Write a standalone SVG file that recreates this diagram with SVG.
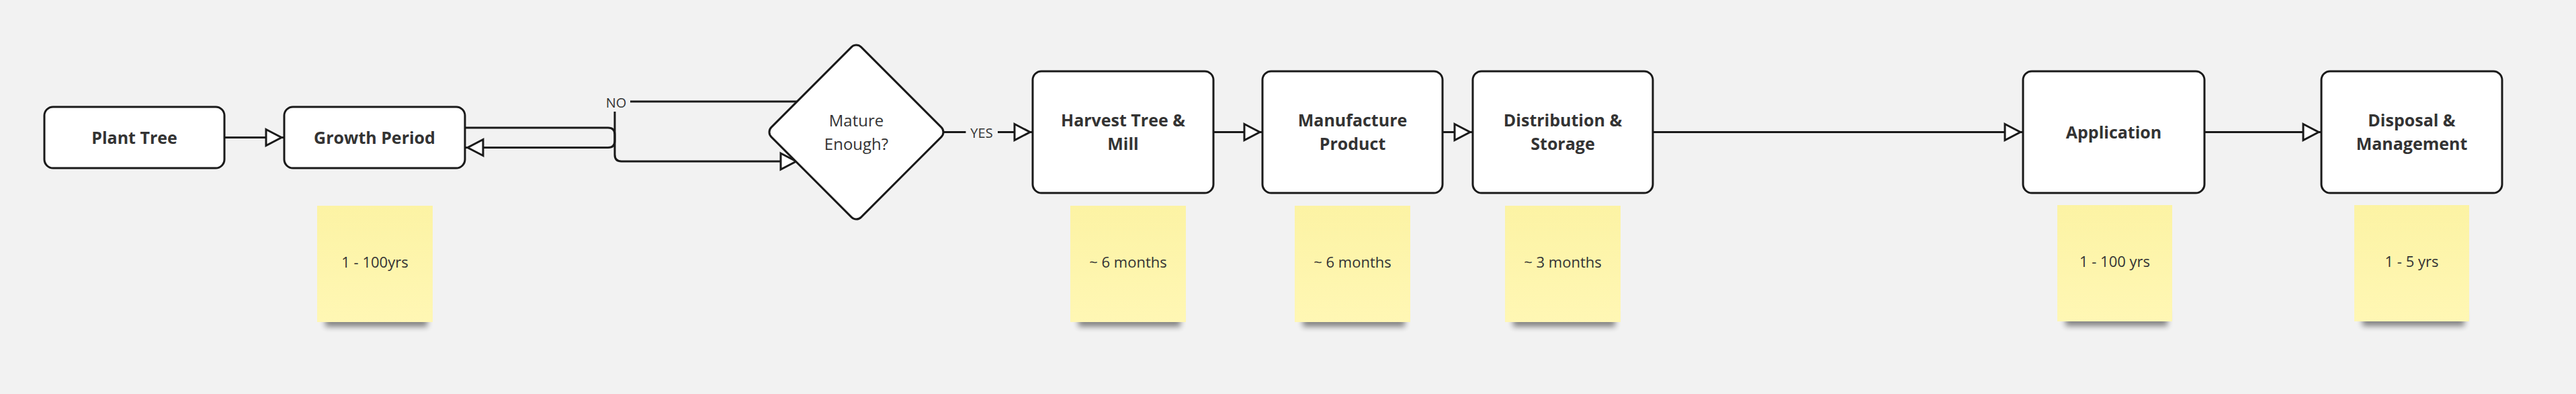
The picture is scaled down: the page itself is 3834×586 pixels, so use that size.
<svg xmlns="http://www.w3.org/2000/svg" width="3834" height="586" viewBox="0 0 3834 586">
  <style>
    .box { fill: #ffffff; stroke: #1a1a1a; stroke-width: 3; }
    .lbl { font-family: "Open Sans", "Liberation Sans", sans-serif; font-size: 25px; font-weight: 700; fill: #333333; text-anchor: middle; }
    .dlbl { font-family: "Open Sans", "Liberation Sans", sans-serif; font-size: 24px; font-weight: 400; fill: #333333; text-anchor: middle; }
    .clbl { font-family: "Open Sans", "Liberation Sans", sans-serif; font-size: 20px; font-weight: 400; fill: #333333; text-anchor: middle; }
    .ntxt { font-family: "Open Sans", "Liberation Sans", sans-serif; font-size: 22px; font-weight: 400; fill: #333333; text-anchor: middle; }
    .conn { fill: none; stroke: #1a1a1a; stroke-width: 3; marker-end: url(#ah); }
    .plain { fill: none; stroke: #1a1a1a; stroke-width: 3; }
    .gap { fill: #f2f2f2; }
    .note { fill: url(#ng); }
    .shadow { fill: #000000; opacity: 0.45; filter: url(#blur); }
  </style>
  <defs>
    <marker id="ah" markerUnits="userSpaceOnUse" markerWidth="36" markerHeight="36" viewBox="-4 -4 36 36" refX="27" refY="12" orient="auto" overflow="visible">
      <path d="M0,0 L23,12 L0,24 Z" fill="#ffffff" stroke="#1a1a1a" stroke-width="3"/>
    </marker>
    <linearGradient id="ng" x1="0" y1="0" x2="0" y2="1">
      <stop offset="0" stop-color="#fcf3a4"/>
      <stop offset="1" stop-color="#fff7b4"/>
    </linearGradient>
    <filter id="blur" x="-20%" y="-50%" width="140%" height="200%">
      <feGaussianBlur stdDeviation="4"/>
    </filter>
  </defs>

  <rect x="0" y="0" width="3834" height="586" fill="#f2f2f2"/>

  <g id="connectors">
    <path class="conn" d="M334 204.5 H423"/>
    <path class="conn" d="M692 190 H905 Q915 190 915 200 V230 Q915 240 925 240 H1189"/>
    <path class="conn" d="M1192 151 H915 V209.5 Q915 219.5 905 219.5 H692"/>
    <rect class="gap" x="895" y="139" width="43" height="27"/>
    <text class="clbl" x="917" y="159.5">NO</text>
    <path class="conn" d="M1404 196.5 H1537"/>
    <rect class="gap" x="1437.5" y="184" width="47.5" height="26"/>
    <text class="clbl" x="1461" y="205">YES</text>
    <path class="conn" d="M1806 196.5 H1879"/>
    <path class="conn" d="M2147 196.5 H2192"/>
    <path class="conn" d="M2460 196.5 H3011"/>
    <path class="conn" d="M3281 196.5 H3455"/>
  </g>

  <g id="plant-tree">
    <rect class="box" x="66" y="159" width="268" height="91" rx="13"/>
    <text class="lbl" x="200" y="214">Plant Tree</text>
  </g>
  <g id="growth-period">
    <rect class="box" x="423" y="159" width="269" height="91" rx="13"/>
    <text class="lbl" x="557.5" y="214">Growth Period</text>
  </g>
  <g id="mature-enough">
    <rect class="box" x="1180" y="102" width="189" height="189" rx="10" transform="rotate(45 1274.5 196.5)"/>
    <text class="dlbl" x="1274.5" y="187.5">Mature</text>
    <text class="dlbl" x="1274.5" y="223">Enough?</text>
  </g>
  <g id="harvest">
    <rect class="box" x="1537" y="106" width="269" height="181" rx="13"/>
    <text class="lbl" x="1671.5" y="188">Harvest Tree &amp;</text>
    <text class="lbl" x="1671.5" y="223">Mill</text>
  </g>
  <g id="manufacture">
    <rect class="box" x="1879" y="106" width="268" height="181" rx="13"/>
    <text class="lbl" x="2013" y="188">Manufacture</text>
    <text class="lbl" x="2013" y="223">Product</text>
  </g>
  <g id="distribution">
    <rect class="box" x="2192" y="106" width="268" height="181" rx="13"/>
    <text class="lbl" x="2326" y="188">Distribution &amp;</text>
    <text class="lbl" x="2326" y="223">Storage</text>
  </g>
  <g id="application">
    <rect class="box" x="3011" y="106" width="270" height="181" rx="13"/>
    <text class="lbl" x="3146" y="205.5">Application</text>
  </g>
  <g id="disposal">
    <rect class="box" x="3455" y="106" width="269" height="181" rx="13"/>
    <text class="lbl" x="3589.5" y="188">Disposal &amp;</text>
    <text class="lbl" x="3589.5" y="223">Management</text>
  </g>

  <g id="note-growth">
    <rect class="shadow" x="484" y="462" width="152" height="24"/>
    <rect class="note" x="472" y="306" width="172" height="173"/>
    <text class="ntxt" x="558" y="398">1 - 100yrs</text>
  </g>
  <g id="note-harvest">
    <rect class="shadow" x="1605" y="462" width="152" height="24"/>
    <rect class="note" x="1593" y="306" width="172" height="173"/>
    <text class="ntxt" x="1679" y="398">~ 6 months</text>
  </g>
  <g id="note-manufacture">
    <rect class="shadow" x="1939" y="462" width="152" height="24"/>
    <rect class="note" x="1927" y="306" width="172" height="173"/>
    <text class="ntxt" x="2013" y="398">~ 6 months</text>
  </g>
  <g id="note-distribution">
    <rect class="shadow" x="2252" y="462" width="152" height="24"/>
    <rect class="note" x="2240" y="306" width="172" height="173"/>
    <text class="ntxt" x="2326" y="398">~ 3 months</text>
  </g>
  <g id="note-application">
    <rect class="shadow" x="3074" y="461" width="152" height="24"/>
    <rect class="note" x="3062" y="305" width="171" height="173"/>
    <text class="ntxt" x="3147.5" y="397">1 - 100 yrs</text>
  </g>
  <g id="note-disposal">
    <rect class="shadow" x="3516" y="461" width="152" height="24"/>
    <rect class="note" x="3504" y="305" width="171" height="173"/>
    <text class="ntxt" x="3589.5" y="397">1 - 5 yrs</text>
  </g>
</svg>
